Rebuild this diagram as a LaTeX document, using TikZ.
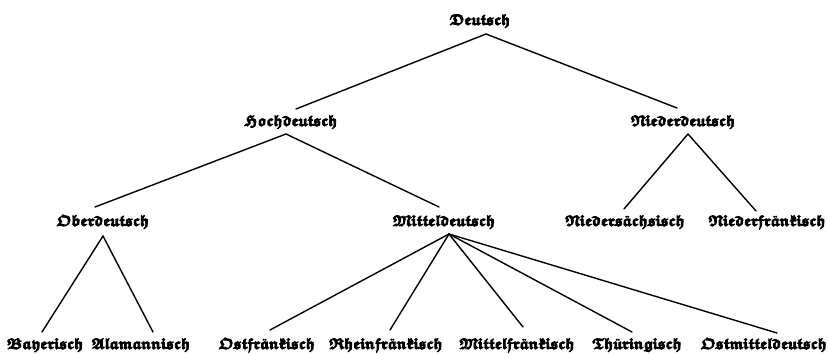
\documentclass[tikz,border=0pt]{standalone}
\usepackage{amssymb}
\usepackage{bm}
\newcommand{\frk}[1]{\special{pdf:literal direct 2 Tr 0.85 w}$\bm{\mathfrak{#1}}$\special{pdf:literal direct 0 Tr}}
\newcommand{\uml}[1]{\mbox{\ooalign{$\bm{\mathfrak{#1}}$\cr\hidewidth\"{}\hidewidth\cr}}}
\begin{document}
\begin{tikzpicture}[x=1pt,y=-1pt,
  lang/.style={inner sep=0pt,font=\fontsize{15}{18}\selectfont},
  edge/.style={line width=1.4pt,line cap=round}]
\useasboundingbox (0,0) rectangle (829,355);
\node[lang] (deutsch) at (480,21) {\frk{Deutsch}};
\node[lang] (hoch) at (291,122) {\frk{Hochdeutsch}};
\node[lang] (nieder) at (683,122) {\frk{Niederdeutsch}};
\node[lang] (ober) at (103,222) {\frk{Oberdeutsch}};
\node[lang] (mittel) at (444,222) {\frk{Mitteldeutsch}};
\node[lang] (nsachs) at (625,222) {\frk{Nieders\uml{a}chsisch}};
\node[lang] (nfrank) at (767,222) {\frk{Niederfr\uml{a}nkisch}};
\node[lang] (bayer) at (45,345) {\frk{Bayerisch}};
\node[lang] (alam) at (141,345) {\frk{Alamannisch}};
\node[lang] (ostfr) at (267,345) {\frk{Ostfr\uml{a}nkisch}};
\node[lang] (rhein) at (386,345) {\frk{Rheinfr\uml{a}nkisch}};
\node[lang] (mfrank) at (517,345) {\frk{Mittelfr\uml{a}nkisch}};
\node[lang] (thuer) at (637,345) {\frk{Th\uml{u}ringisch}};
\node[lang] (ostmd) at (764,345) {\frk{Ostmitteldeutsch}};
\draw[edge] ([xshift=6pt,yshift=-13pt]deutsch.center) -- ([xshift=5pt,yshift=13pt]hoch.center);
\draw[edge] ([xshift=6pt,yshift=-13pt]deutsch.center) -- ([xshift=-6pt,yshift=14pt]nieder.center);
\draw[edge] ([xshift=-5pt,yshift=-12pt]hoch.center) -- ([xshift=-8pt,yshift=15pt]ober.center);
\draw[edge] ([xshift=-5pt,yshift=-12pt]hoch.center) -- ([xshift=-5pt,yshift=15pt]mittel.center);
\draw[edge] ([xshift=5pt,yshift=-12pt]nieder.center) -- ([xshift=-1pt,yshift=13pt]nsachs.center);
\draw[edge] ([xshift=5pt,yshift=-12pt]nieder.center) -- ([xshift=-11pt,yshift=11pt]nfrank.center);
\draw[edge] ([yshift=-14pt]ober.center) -- ([xshift=-3pt,yshift=13pt]bayer.center);
\draw[edge] ([yshift=-14pt]ober.center) -- ([xshift=12pt,yshift=13pt]alam.center);
\draw[edge] ([xshift=5pt,yshift=-12pt]mittel.center) -- ([xshift=3pt,yshift=15pt]ostfr.center);
\draw[edge] ([xshift=5pt,yshift=-12pt]mittel.center) -- ([xshift=4pt,yshift=15pt]rhein.center);
\draw[edge] ([xshift=5pt,yshift=-12pt]mittel.center) -- ([xshift=6pt,yshift=18pt]mfrank.center);
\draw[edge] ([xshift=5pt,yshift=-12pt]mittel.center) -- ([xshift=-5pt,yshift=13pt]thuer.center);
\draw[edge] ([xshift=5pt,yshift=-12pt]mittel.center) -- ([xshift=13pt,yshift=12pt]ostmd.center);
\end{tikzpicture}
\end{document}
